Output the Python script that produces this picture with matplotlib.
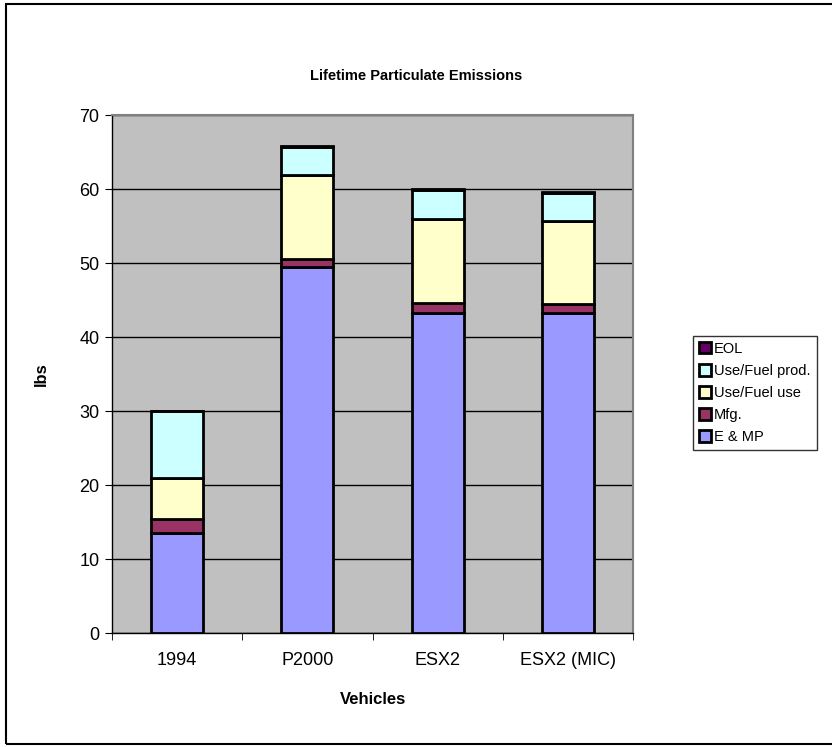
import numpy as np
import matplotlib
matplotlib.use('Agg')
from matplotlib import pyplot as plt
from matplotlib.patches import Rectangle

plt.rcParams['font.family'] = ['Liberation Sans', 'DejaVu Sans']

vehicles = ['1994', 'P2000', 'ESX2', 'ESX2 (MIC)']
e_mp = [13.5, 49.4, 43.3, 43.3]
mfg = [1.9, 1.1, 1.3, 1.1]
fuel_use = [5.6, 11.4, 11.4, 11.3]
fuel_prod = [9.0, 3.8, 3.9, 3.8]
eol = [0.05, 0.05, 0.05, 0.05]

series = [
    ('E & MP', e_mp, '#9999FF'),
    ('Mfg.', mfg, '#993366'),
    ('Use/Fuel use', fuel_use, '#FFFFCC'),
    ('Use/Fuel prod.', fuel_prod, '#CCFFFF'),
    ('EOL', eol, '#660066'),
]

fig = plt.figure(figsize=(8.32, 7.47), dpi=100)
ax = fig.add_axes([0.1346, 0.1526, 0.6264, 0.6934])
ax.set_facecolor('#C0C0C0')

x = np.arange(len(vehicles))
bottom = np.zeros(len(vehicles))
handles = []
for name, vals, col in series:
    h = ax.bar(x, vals, 0.4, bottom=bottom, color=col, edgecolor='black',
               linewidth=2, label=name, zorder=3)
    handles.append(h)
    bottom += np.array(vals)

ax.set_xlim(-0.5, len(vehicles) - 0.5)
ax.set_ylim(0, 70)
ax.set_yticks(range(0, 71, 10))
ax.set_xticks(x)
ax.set_xticklabels(vehicles)
ax.set_xticks(np.arange(-0.5, len(vehicles), 1), minor=True)
ax.tick_params(axis='x', which='major', length=0, pad=14, labelsize=13)
ax.tick_params(axis='x', which='minor', length=5, direction='out', color='black')
ax.tick_params(axis='y', length=5, direction='out', labelsize=13, pad=4)
ax.yaxis.grid(True, color='black', linewidth=1, zorder=1)
ax.set_axisbelow(True)

for s in ['top', 'right']:
    ax.spines[s].set_color('#808080')
    ax.spines[s].set_linewidth(1.5)
for s in ['left', 'bottom']:
    ax.spines[s].set_color('black')
    ax.spines[s].set_linewidth(1)

ax.set_xlabel('Vehicles', fontsize=12, fontweight='bold', labelpad=16)
ax.set_ylabel('lbs', fontsize=12, fontweight='bold', labelpad=22)
fig.text(0.5, 0.898, 'Lifetime Particulate Emissions', ha='center', va='center',
         fontsize=10.5, fontweight='bold')

leg = fig.legend(handles[::-1], [s[0] for s in series][::-1],
                 loc='upper left', bbox_to_anchor=(0.833, 0.55),
                 fontsize=10.5, frameon=True, fancybox=False, edgecolor='black',
                 handlelength=0.8, handleheight=0.8, handletextpad=0.25,
                 labelspacing=0.55, borderpad=0.4, borderaxespad=0)
leg.get_frame().set_linewidth(1)

# outer chart frame
fig.patches.append(Rectangle((6 / 832, 3 / 747), 830 / 832, 740 / 747,
                             transform=fig.transFigure, fill=False,
                             edgecolor='black', linewidth=1.5))

fig.savefig('out.png', dpi=100)
